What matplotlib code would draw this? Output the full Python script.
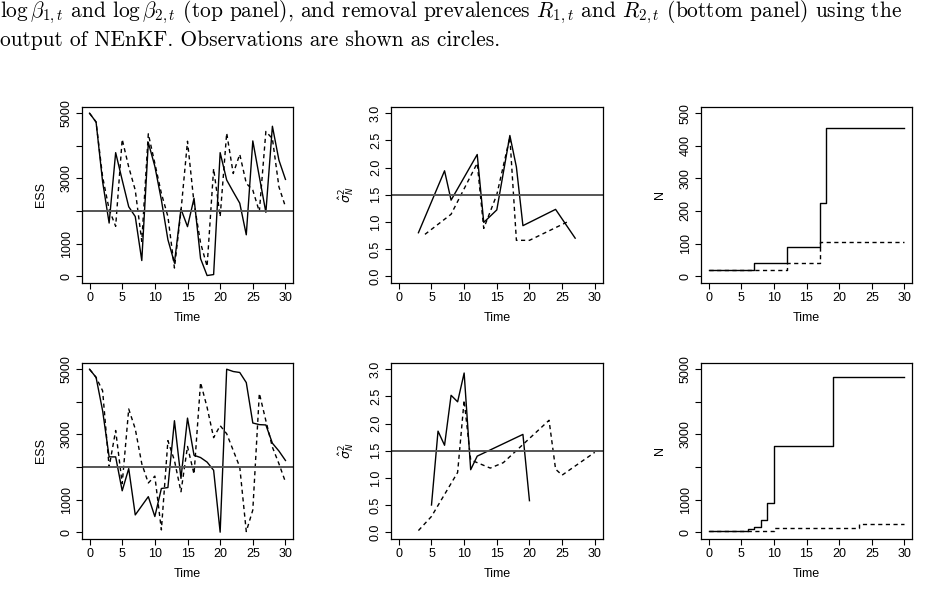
import numpy as np
import matplotlib
matplotlib.use("Agg")
import matplotlib.pyplot as plt

plt.rcParams['font.family'] = ['Liberation Sans', 'DejaVu Sans']
plt.rcParams['mathtext.fontset'] = 'dejavusans'

# time axis shared by every panel
t = np.arange(31)

# ESS, top row (solid / dashed)
ess_top_solid = [5000, 4730, 2900, 1630, 3790, 2950, 2130, 1830, 480, 4100, 3370,
                 2340, 1120, 410, 2060, 1520, 2390, 540, 20, 50, 3790,
                 2950, 2590, 2240, 1270, 4150, 3050, 1960, 4600, 3560, 2970]
ess_top_dash = [5000, 4730, 3050, 2050, 1530, 4200, 3350, 2640, 1070, 4370, 3460,
                2540, 1830, 250, 2000, 4140, 2240, 1020, 300, 3300, 1830,
                4390, 3150, 3740, 2850, 2640, 1980, 4440, 4220, 2740, 2130]

# sigma^2_N estimates, top row
sig_top_t1 = [3, 7, 8, 12, 13, 15, 17, 18, 19, 24, 27]
sig_top_v1 = [0.80, 1.94, 1.40, 2.24, 0.99, 1.22, 2.59, 2.01, 0.93, 1.23, 0.70]
sig_top_t2 = [4, 8, 12, 13, 15, 17, 18, 20, 26]
sig_top_v2 = [0.77, 1.14, 2.08, 0.88, 1.50, 2.56, 0.66, 0.66, 1.01]

# N (ensemble size), top row
n_top_1 = [20, 20, 20, 20, 20, 20, 20, 40, 40, 40, 40, 40, 88, 88, 88, 88, 88,
           225, 455, 455, 455, 455, 455, 455, 455, 455, 455, 455, 455, 455, 455]
n_top_2 = [20, 20, 20, 20, 20, 20, 20, 20, 20, 20, 20, 20, 40, 40, 40, 40, 40,
           105, 105, 105, 105, 105, 105, 105, 105, 105, 105, 105, 105, 105, 105]

# ESS, bottom row
ess_bot_solid = [5000, 4750, 3730, 2310, 2310, 1270, 1950, 530, 810, 1090, 480,
                 1340, 1370, 3420, 1650, 3500, 2360, 2290, 2150, 1900, 0,
                 5000, 4930, 4900, 4590, 3350, 3300, 3290, 2730, 2490, 2200]
ess_bot_dash = [5000, 4750, 4340, 2000, 3120, 1490, 3780, 3170, 2100, 1510, 1720,
                70, 2810, 2200, 1240, 2630, 1780, 4590, 3830, 2900, 3270,
                3020, 2510, 2000, 20, 680, 4260, 3420, 2610, 2100, 1540]

# sigma^2_N estimates, bottom row
sig_bot_t1 = [5, 6, 7, 8, 9, 10, 11, 12, 19, 20]
sig_bot_v1 = [0.50, 1.86, 1.60, 2.52, 2.40, 2.93, 1.15, 1.40, 1.80, 0.58]
sig_bot_t2 = [3, 5, 9, 10, 11, 14, 16, 23, 24, 25, 30]
sig_bot_v2 = [0.03, 0.29, 1.10, 2.43, 1.33, 1.18, 1.28, 2.06, 1.16, 1.05, 1.47]

# N, bottom row
n_bot_1 = [50, 50, 50, 50, 50, 50, 90, 150, 380, 910, 2650, 2650, 2650, 2650, 2650,
           2650, 2650, 2650, 2650, 4750, 4750, 4750, 4750, 4750, 4750, 4750, 4750,
           4750, 4750, 4750, 4750]
n_bot_2 = [50, 50, 50, 50, 50, 50, 50, 50, 50, 50, 130, 130, 130, 130, 130, 130,
           130, 130, 130, 130, 130, 130, 130, 250, 250, 250, 250, 250, 250, 250, 250]

ess_ticks = [0, 1000, 2000, 3000, 4000, 5000]
ess_labels = ['0', '1000', '', '3000', '', '5000']
sig_ticks = [0.0, 0.5, 1.0, 1.5, 2.0, 2.5, 3.0]
sig_labels = ['0.0', '0.5', '1.0', '1.5', '2.0', '2.5', '3.0']
ntop_ticks = [0, 100, 200, 300, 400, 500]
ntop_labels = ['0', '100', '200', '300', '400', '500']

W, H = 948, 612
fig = plt.figure(figsize=(W / 100, H / 100), dpi=100)


def make_ax(left, top):
    # box given in pixels: left edge, top edge; each box ~212 x 176 px
    return fig.add_axes([left / W, 1 - (top + 176) / H, 211.6 / W, 176 / H])


def setup(ax, ylim, yticks, ylabels, ylab):
    ax.set_xlim(-1.2, 31.2)
    ax.set_ylim(*ylim)
    ax.set_xticks(range(0, 31, 5))
    ax.set_yticks(yticks)
    ax.set_yticklabels(ylabels, rotation=90, va='center')
    ax.tick_params(direction='out', length=4, width=0.8, labelsize=9, pad=2.5)
    for s in ax.spines.values():
        s.set_linewidth(0.9)
    ax.set_xlabel('Time', fontsize=9)
    ax.xaxis.set_label_coords(0.5, -0.165)
    ax.set_ylabel(ylab, fontsize=9)
    ax.yaxis.set_label_coords(-0.165, 0.5)


lkw = dict(color='black', lw=1.0)
dkw = dict(color='black', lw=1.0, dashes=(3, 2.5))
hkw = dict(color='#555555', lw=1.4)
sig_lab = r'$\hat{\sigma}^2_N$'

rows = [
    (106.7, ess_top_solid, ess_top_dash, sig_top_t1, sig_top_v1, sig_top_t2, sig_top_v2,
     n_top_1, n_top_2, (-20, 520), ntop_ticks, ntop_labels),
    (362.7, ess_bot_solid, ess_bot_dash, sig_bot_t1, sig_bot_v1, sig_bot_t2, sig_bot_v2,
     n_bot_1, n_bot_2, (-200, 5200), ess_ticks, ess_labels),
]

for (top, e1, e2, st1, sv1, st2, sv2, n1, n2, nlim, nticks, nlabels) in rows:
    ax = make_ax(81.7, top)
    ax.plot(t, e1, **lkw)
    ax.plot(t, e2, **dkw)
    ax.axhline(2000, **hkw)
    setup(ax, (-200, 5200), ess_ticks, ess_labels, 'ESS')

    ax = make_ax(391.0, top)
    ax.plot(st1, sv1, **lkw)
    ax.plot(st2, sv2, **dkw)
    ax.axhline(1.5, **hkw)
    setup(ax, (-0.12, 3.12), sig_ticks, sig_labels, sig_lab)

    ax = make_ax(700.7, top)
    ax.step(t, n1, where='post', **lkw)
    ax.step(t, n2, where='post', **dkw)
    setup(ax, nlim, nticks, nlabels, 'N')

# caption lines from the surrounding page
cap1 = (r"$\log\beta_{1,t}$ and $\log\beta_{2,t}$ (top panel), and removal prevalences "
        r"$R_{1,t}$ and $R_{2,t}$ (bottom panel) using the")
cap2 = "output of NEnKF. Observations are shown as circles."
fig.text(0.0, 1 - 17.5 / H, cap1, fontfamily='cmr10', math_fontfamily='cm',
         fontsize=15.4, va='baseline')
fig.text(0.0, 1 - 45.5 / H, cap2, fontfamily='cmr10', math_fontfamily='cm',
         fontsize=15.4, va='baseline')

fig.savefig('out.png', dpi=100)
